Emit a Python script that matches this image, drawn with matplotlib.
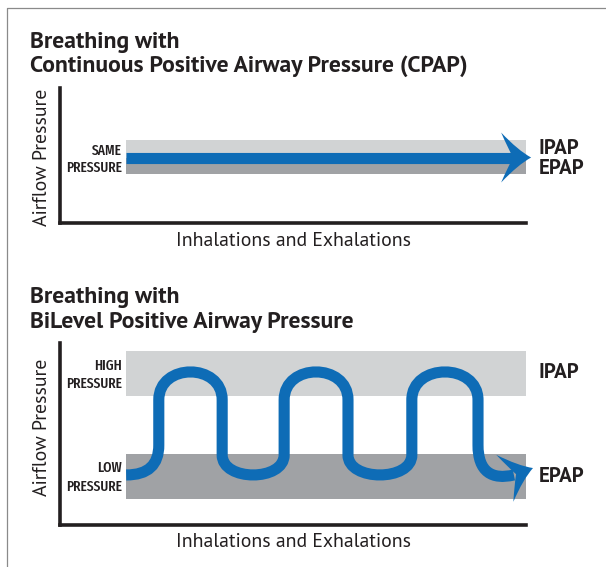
import numpy as np
import matplotlib
matplotlib.use("Agg")
import matplotlib.pyplot as plt
from matplotlib.path import Path
from matplotlib.patches import PathPatch
from matplotlib.lines import Line2D
from matplotlib.transforms import IdentityTransform

# ---- data (axes units: x = time 0..100, y = pressure 0..100) ----
cpap_band_ipap = (48.5, 61.5)     # light band
cpap_band_epap = (36.3, 48.5)     # dark band
cpap_level = 48.5
band_start = 14.2

bilevel_band_ipap = (70.9, 95.6)
bilevel_band_epap = (14.3, 39.0)
bilevel_high = 84.1
bilevel_low = 27.5
rise_times = [21.2, 48.1, 75.5]
fall_times = [34.8, 61.8, 89.7]

titles_top = ["Breathing with", "Continuous Positive Airway Pressure (CPAP)"]
titles_bot = ["Breathing with", "BiLevel Positive Airway Pressure"]
xlabel = "Inhalations and Exhalations"
ylabel = "Airflow Pressure"
level_labels = ["SAME", "PRESSURE", "HIGH", "PRESSURE", "LOW", "PRESSURE"]
mode_labels = ["IPAP", "EPAP", "IPAP", "EPAP"]

BLUE = "#0e6cb6"
LIGHT = "#d1d3d4"
DARK = "#a0a2a5"
INK = "#231f20"
W, H = 606, 567

plt.rcParams["font.family"] = ["PT Sans", "DejaVu Sans"]
fig = plt.figure(figsize=(W / 100, H / 100), dpi=100)


def px_axes(left, top, right, bottom):
    ax = fig.add_axes([left / W, 1 - bottom / H, (right - left) / W, (bottom - top) / H])
    ax.set_xlim(0, 100)
    ax.set_ylim(0, 100)
    ax.set_xticks([])
    ax.set_yticks([])
    for s in ["top", "right"]:
        ax.spines[s].set_visible(False)
    for s in ["left", "bottom"]:
        ax.spines[s].set_linewidth(2.6)
        ax.spines[s].set_color(INK)
        ax.spines[s].set_capstyle("projecting")
    ax.patch.set_alpha(0)
    return ax


def arrow_head(ax, tip, angle):
    # swept arrow head drawn in pixel space around the data tip
    tx, ty = ax.transData.transform(tip)
    shape = [(0, 0), (-13, 7), (-30, 25), (-23, 9), (-18, 0),
             (-23, -9), (-30, -25), (-13, -7), (0, 0)]
    codes = [Path.MOVETO, Path.CURVE3, Path.CURVE3, Path.CURVE3, Path.CURVE3,
             Path.CURVE3, Path.CURVE3, Path.CURVE3, Path.CURVE3]
    a = np.deg2rad(angle)
    rot = np.array([[np.cos(a), -np.sin(a)], [np.sin(a), np.cos(a)]])
    pts = np.array(shape) @ rot.T + [tx, ty]
    ax.add_patch(PathPatch(Path(pts, codes), facecolor=BLUE, edgecolor="none",
                           transform=IdentityTransform(), clip_on=False, zorder=4))


# ---- border ----
fig.add_artist(Line2D([7 / W, 7 / W, 1], [0, 1 - 8 / H, 1 - 8 / H], color="#8a8a8a", lw=0.9))

# ---- top panel: CPAP ----
ax1 = px_axes(60, 88, 526, 223)
ax1.axhspan(*cpap_band_ipap, xmin=band_start / 100, xmax=1, color=LIGHT, lw=0)
ax1.axhspan(*cpap_band_epap, xmin=band_start / 100, xmax=1, color=DARK, lw=0)
ax1.plot([band_start, 97.5], [cpap_level, cpap_level], color=BLUE, lw=8, solid_capstyle="butt",
         clip_on=False, zorder=3)
arrow_head(ax1, (101.1, cpap_level), 0)

# ---- bottom panel: BiLevel ----
ax2 = px_axes(60, 343, 526, 525)
ax2.axhspan(*bilevel_band_ipap, xmin=band_start / 100, xmax=1, color=LIGHT, lw=0)
ax2.axhspan(*bilevel_band_epap, xmin=band_start / 100, xmax=1, color=DARK, lw=0)

bend_hi, bend_lo = 68.7, 38.5
c_hi = bend_hi + (bilevel_high - bend_hi) / 0.75
c_lo = bend_lo + (bilevel_low - bend_lo) / 0.75
verts = [(band_start, bilevel_low), (18.9, bilevel_low), (rise_times[0], 33.0),
         (rise_times[0], 44.0), (rise_times[0], bend_hi)]
codes = [Path.MOVETO, Path.CURVE4, Path.CURVE4, Path.CURVE4, Path.LINETO]
for i, (r, f) in enumerate(zip(rise_times, fall_times)):
    verts += [(r, c_hi), (f, c_hi), (f, bend_hi)]
    codes += [Path.CURVE4] * 3
    if i < len(rise_times) - 1:
        n = rise_times[i + 1]
        verts += [(f, bend_lo), (f, c_lo), (n, c_lo), (n, bend_lo), (n, bend_hi)]
        codes += [Path.LINETO, Path.CURVE4, Path.CURVE4, Path.CURVE4, Path.LINETO]
f = fall_times[-1]
verts += [(f, 44.0), (f, 29.1), (92.7, 24.7), (97.4, bilevel_low)]
codes += [Path.LINETO, Path.CURVE4, Path.CURVE4, Path.CURVE4]
ax2.add_patch(PathPatch(Path(verts, codes), facecolor="none", edgecolor=BLUE, lw=8,
                        capstyle="butt", joinstyle="round", clip_on=False, zorder=3))
arrow_head(ax2, (101.5, 31.3), 20)

# ---- text ----
for y, t in zip([48, 72], titles_top):
    fig.text(30 / W, 1 - y / H, t, fontsize=17, fontweight="bold", color=INK, va="baseline")
for y, t in zip([303, 328], titles_bot):
    fig.text(30 / W, 1 - y / H, t, fontsize=17, fontweight="bold", color=INK, va="baseline")

for yc in [157, 427]:
    fig.text(42 / W, 1 - yc / H, ylabel, rotation=90, ha="center", va="center",
             fontsize=14.2, color=INK)
for yc in [241, 542]:
    fig.text(294 / W, 1 - yc / H, xlabel, ha="center", va="center", fontsize=14.2, color=INK)

narrow = ["Fira Sans Extra Condensed", "DejaVu Sans"]
for yc, t in zip([151, 168, 366, 384, 468, 487], level_labels):
    fig.text(122 / W, 1 - yc / H, t, ha="right", va="center", fontsize=10.5, fontweight="medium",
             color=INK, family=narrow)

for yc, t in zip([149, 168, 372, 477], mode_labels):
    fig.text(539 / W, 1 - yc / H, t, ha="left", va="center", fontsize=15, fontweight="bold", color=INK)

fig.savefig("out.png", dpi=100)
